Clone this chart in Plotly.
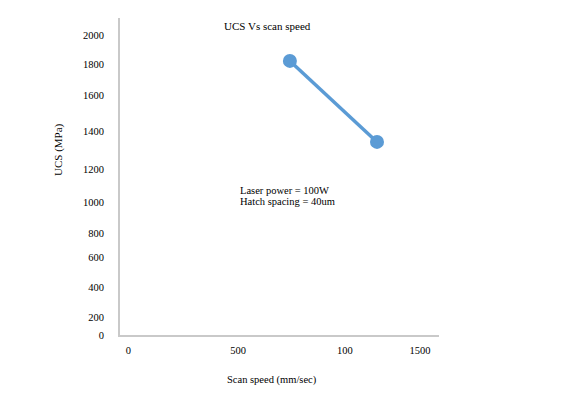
import plotly.graph_objects as go

# data (axis units)
scan_speed = [831, 1279]
ucs = [1827, 1287]

# tick labels are unevenly spaced in the original, keep positions as read
x_tick_pos = [0, 564, 1114, 1500]
x_tick_text = ["0", "500", "100", "1500"]
y_tick_pos = [0, 118, 318, 516, 678, 885, 1107, 1356, 1600, 1807, 2000]
y_tick_text = ["0", "200", "400", "600", "800", "1000", "1200", "1400", "1600", "1800", "2000"]

note_lines = ["Laser power = 100W", "Hatch spacing = 40um"]

font = "Liberation Serif"
blue = "#5b9bd5"
axis_grey = "#c9c9c9"


# page pixel -> paper coords (plot area spans x 120..439, y 18..335 on the page)
def px_x(p):
    return (p - 120) / 319


def px_y(p):
    return (335 - p) / 317


fig = go.Figure()
fig.add_trace(go.Scatter(x=scan_speed, y=ucs, mode="lines+markers",
                         line=dict(color=blue, width=3.5),
                         marker=dict(color=blue, size=14),
                         showlegend=False, hoverinfo="x+y"))

annotations = [
    dict(text="UCS Vs scan speed", x=px_x(267), y=px_y(26), xref="paper", yref="paper",
         showarrow=False, xanchor="center", yanchor="middle", font=dict(size=11)),
    dict(text="UCS (MPa)", x=px_x(58), y=px_y(150), xref="paper", yref="paper",
         showarrow=False, textangle=-90, xanchor="center", yanchor="middle",
         font=dict(size=11)),
    dict(text="Scan speed (mm/sec)", x=px_x(272), y=px_y(380), xref="paper", yref="paper",
         showarrow=False, xanchor="center", yanchor="middle", font=dict(size=10.5)),
]
# the note has tight line spacing, so one annotation per line
for i, line in enumerate(note_lines):
    annotations.append(dict(text=line, x=px_x(238), y=px_y(190 + 11.5 * i),
                            xref="paper", yref="paper", showarrow=False,
                            xanchor="left", yanchor="middle", font=dict(size=10.5)))

# the page body adds 8px, so margins are shifted up/left by that much
fig.update_layout(
    width=561, height=402,
    margin=dict(l=112, r=130, t=10, b=75),
    paper_bgcolor="white", plot_bgcolor="white",
    font=dict(family=font, size=10.5, color="black"),
    xaxis=dict(range=[-43, 1598], tickvals=x_tick_pos, ticktext=x_tick_text,
               showgrid=False, zeroline=False, showline=True,
               linecolor=axis_grey, linewidth=2, ticks="",
               ticklabelstandoff=4, fixedrange=True),
    yaxis=dict(range=[0, 2113], tickvals=y_tick_pos, ticktext=y_tick_text,
               showgrid=False, zeroline=False, showline=True,
               linecolor=axis_grey, linewidth=2, ticks="",
               ticklabelstandoff=12, fixedrange=True),
    annotations=annotations,
)

fig.write_html("out.html")
